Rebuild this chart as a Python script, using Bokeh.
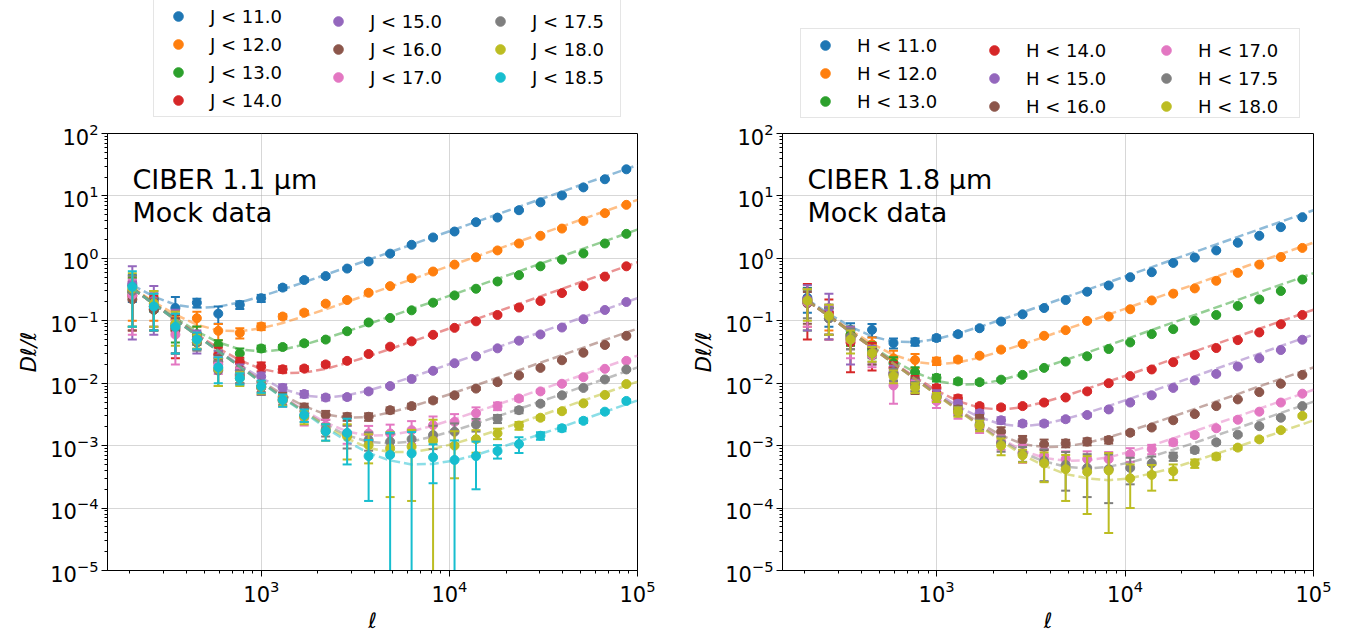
import numpy as np
from bokeh.plotting import figure
from bokeh.models import Legend, LegendItem, Label, Range1d, FixedTicker, ColumnDataSource
from bokeh.layouts import row, column
from bokeh.embed import file_html
from bokeh.resources import INLINE

# ---------------- data ----------------
ELL = [206, 268, 349, 454, 590, 768, 998, 1298, 1690, 2198, 2858, 3718, 4838, 6293,
       8185, 10646, 13848, 18014, 23432, 30480, 39648, 51573, 67086, 87264]
ELL_MODEL = ELL + [100000]

COLORS = ["#1f77b4", "#ff7f0e", "#2ca02c", "#d62728", "#9467bd",
          "#8c564b", "#e377c2", "#7f7f7f", "#bcbd22", "#17becf"]

J_LABELS = ["J < 11.0", "J < 12.0", "J < 13.0", "J < 14.0", "J < 15.0",
            "J < 16.0", "J < 17.0", "J < 17.5", "J < 18.0", "J < 18.5"]
H_LABELS = ["H < 11.0", "H < 12.0", "H < 13.0", "H < 14.0", "H < 15.0",
            "H < 16.0", "H < 17.0", "H < 17.5", "H < 18.0"]

# ---- CIBER 1.1 um (J) ----
j11_val = [0.37, 0.22, 0.16, 0.195, 0.13, 0.18, 0.23, 0.34, 0.45, 0.52, 0.686, 0.89, 1.19, 1.65, 2.16, 2.69, 3.8, 4.5, 5.9, 7.9, 10.2, 13.7, 18.5, 26.7]
j11_err = [0.17, 0.08, 0.08, 0.03, 0.04, 0.025, 0.03, 0.03, 0.03, 0.03, 0.03, 0.04, 0.05, 0.06, 0.08, 0.1, 0.12, 0.15, 0.2, 0.25, 0.3, 0.4, 0.5, 0.7]
j11_mod = [0.374, 0.244, 0.181, 0.160, 0.168, 0.197, 0.246, 0.317, 0.416, 0.547, 0.721, 0.951, 1.26, 1.66, 2.2, 2.9, 3.83, 5.08, 6.7, 8.86, 11.7, 15.5, 20.4, 27.0, 31.2]

j12_val = [0.30, 0.17, 0.105, 0.11, 0.069, 0.064, 0.081, 0.117, 0.135, 0.188, 0.215, 0.281, 0.359, 0.481, 0.615, 0.794, 1.04, 1.34, 1.73, 2.30, 3.0, 3.98, 5.3, 7.2]
j12_err = [0.2, 0.07, 0.04, 0.03, 0.02, 0.012, 0.01, 0.01, 0.01, 0.01, 0.01, 0.012, 0.014, 0.018, 0.02, 0.025, 0.03, 0.04, 0.05, 0.06, 0.08, 0.1, 0.13, 0.18]
j12_mod = [0.342, 0.201, 0.126, 0.0864, 0.0702, 0.068, 0.0758, 0.0923, 0.118, 0.153, 0.201, 0.265, 0.351, 0.461, 0.610, 0.806, 1.064, 1.41, 1.86, 2.46, 3.24, 4.30, 5.68, 7.5, 8.66]

j13_val = [0.28, 0.15, 0.085, 0.061, 0.041, 0.030, 0.036, 0.038, 0.0436, 0.050, 0.068, 0.094, 0.111, 0.147, 0.195, 0.255, 0.326, 0.426, 0.537, 0.746, 0.955, 1.2, 1.73, 2.47]
j13_err = [0.2, 0.08, 0.04, 0.02, 0.008, 0.006, 0.004, 0.003, 0.003, 0.003, 0.003, 0.004, 0.004, 0.005, 0.006, 0.007, 0.008, 0.01, 0.012, 0.015, 0.02, 0.025, 0.035, 0.05]
j13_mod = [0.334, 0.190, 0.111, 0.0675, 0.0451, 0.0349, 0.0321, 0.0346, 0.0415, 0.0524, 0.0678, 0.0886, 0.117, 0.154, 0.203, 0.269, 0.355, 0.470, 0.620, 0.820, 1.081, 1.433, 1.89, 2.5, 2.89]

j14_val = [0.25, 0.16, 0.075, 0.05, 0.029, 0.0216, 0.0185, 0.0167, 0.0172, 0.020, 0.0228, 0.0294, 0.0385, 0.0468, 0.0596, 0.077, 0.098, 0.124, 0.163, 0.207, 0.278, 0.359, 0.51, 0.746]
j14_err = [0.18, 0.09, 0.05, 0.015, 0.008, 0.004, 0.003, 0.002, 0.0015, 0.0015, 0.0015, 0.0015, 0.0018, 0.002, 0.002, 0.0025, 0.003, 0.004, 0.005, 0.006, 0.008, 0.01, 0.014, 0.02]
j14_mod = [0.331, 0.187, 0.106, 0.0608, 0.0364, 0.0233, 0.0169, 0.0145, 0.0148, 0.0170, 0.0211, 0.0270, 0.0354, 0.0463, 0.0611, 0.0806, 0.106, 0.141, 0.186, 0.246, 0.324, 0.430, 0.568, 0.75, 0.866]

j15_val = [0.40, 0.21, 0.09, 0.05, 0.025, 0.016, 0.0128, 0.0084, 0.0067, 0.0059, 0.0060, 0.0074, 0.0090, 0.0117, 0.0158, 0.0209, 0.027, 0.0362, 0.048, 0.0605, 0.078, 0.106, 0.149, 0.20]
j15_err = [0.35, 0.15, 0.06, 0.02, 0.008, 0.004, 0.002, 0.0012, 0.0008, 0.0006, 0.0005, 0.0005, 0.0005, 0.0006, 0.0006, 0.0007, 0.0008, 0.001, 0.0012, 0.0015, 0.002, 0.0025, 0.003, 0.004]
j15_mod = [0.330, 0.185, 0.1046, 0.0588, 0.0336, 0.0196, 0.0121, 0.0081, 0.00636, 0.00589, 0.00639, 0.00764, 0.0097, 0.0125, 0.0164, 0.0216, 0.0284, 0.0376, 0.0496, 0.0656, 0.0865, 0.1146, 0.151, 0.20, 0.231]

j16_val = [0.22, 0.15, 0.07, 0.045, 0.022, 0.014, 0.0087, 0.006, 0.0041, 0.0031, 0.0029, 0.0029, 0.0037, 0.0043, 0.0053, 0.0064, 0.0082, 0.0104, 0.0133, 0.0176, 0.0233, 0.0308, 0.041, 0.0575]
j16_err = [0.15, 0.07, 0.04, 0.01, 0.006, 0.004, 0.0015, 0.001, 0.0006, 0.0005, 0.0004, 0.0004, 0.0004, 0.0004, 0.0004, 0.0004, 0.0004, 0.0004, 0.0005, 0.0005, 0.0006, 0.0008, 0.001, 0.0014]
j16_mod = [0.330, 0.1851, 0.1042, 0.0582, 0.0329, 0.0187, 0.0109, 0.00655, 0.00429, 0.00316, 0.00279, 0.00289, 0.0034, 0.00422, 0.00542, 0.00707, 0.00928, 0.01226, 0.01615, 0.02134, 0.0281, 0.0372, 0.0492, 0.065, 0.075]

j17_val = [0.26, 0.18, 0.06, 0.05, 0.02, 0.0135, 0.0085, 0.0052, 0.0028, 0.0021, 0.00157, 0.00157, 0.00157, 0.00177, 0.00213, 0.0024, 0.0033, 0.0043, 0.0057, 0.0074, 0.0098, 0.0125, 0.017, 0.0228]
j17_err = [0.2, 0.1, 0.04, 0.015, 0.006, 0.004, 0.002, 0.001, 0.0007, 0.0005, 0.0005, 0.0005, 0.0006, 0.0007, 0.0008, 0.0008, 0.0008, 0.0006, 0.0005, 0.0004, 0.0004, 0.0004, 0.0005, 0.0006]
j17_mod = [0.330, 0.185, 0.104, 0.0581, 0.0327, 0.0185, 0.0105, 0.00608, 0.00367, 0.00233, 0.00169, 0.00144, 0.00148, 0.0017, 0.00209, 0.00267, 0.00347, 0.00455, 0.00598, 0.00789, 0.0104, 0.01376, 0.01817, 0.024, 0.0277]

j175_val = [0.30, 0.17, 0.08, 0.045, 0.016, 0.013, 0.0085, 0.0055, 0.0030, 0.0018, 0.0015, 0.00123, 0.00116, 0.00127, 0.00148, 0.00167, 0.00218, 0.0027, 0.0037, 0.0047, 0.0064, 0.0084, 0.0115, 0.0166]
j175_err = [0.22, 0.1, 0.05, 0.012, 0.007, 0.003, 0.002, 0.001, 0.0006, 0.0004, 0.0006, 0.0004, 0.0004, 0.0005, 0.0006, 0.0006, 0.0005, 0.0004, 0.0004, 0.0003, 0.0003, 0.0003, 0.0003, 0.0004]
j175_mod = [0.330, 0.185, 0.104, 0.0581, 0.0327, 0.0184, 0.01044, 0.00598, 0.00354, 0.00216, 0.00146, 0.00115, 0.00108, 0.00117, 0.0014, 0.00175, 0.00226, 0.00295, 0.00387, 0.0051, 0.0067, 0.00889, 0.01174, 0.0155, 0.0179]

j18_val = [0.33, 0.19, 0.09, 0.048, 0.017, 0.012, 0.0088, 0.0053, 0.0029, 0.0017, 0.0014, 0.00102, 0.0009, 0.00096, 0.0012, 0.0010, 0.00127, 0.00157, 0.0021, 0.0028, 0.00356, 0.00476, 0.0065, 0.0097]
j18_err = [0.25, 0.11, 0.05, 0.012, 0.008, 0.003, 0.002, 0.001, 0.0007, 0.0005, 0.0008, 0.0005, 0.00075, 0.00083, 0.0014, 0.0007, 0.0005, 0.0003, 0.0003, 0.0002, 0.0002, 0.0002, 0.0002, 0.0003]
j18_mod = [0.330, 0.185, 0.104, 0.0581, 0.0327, 0.0184, 0.01038, 0.0059, 0.00344, 0.00204, 0.0013, 0.00092, 0.00079, 0.00079, 0.00089, 0.00108, 0.00137, 0.00177, 0.00231, 0.00304, 0.00399, 0.00528, 0.00697, 0.0092, 0.0106]

j185_val = [0.35, 0.17, 0.08, 0.05, 0.018, 0.012, 0.009, 0.0054, 0.0031, 0.0017, 0.0016, 0.00068, 0.00071, 0.00075, 0.00065, 0.00059, 0.00068, 0.00082, 0.00106, 0.00144, 0.0019, 0.0025, 0.0035, 0.0052]
j185_err = [0.27, 0.1, 0.05, 0.015, 0.008, 0.0025, 0.002, 0.0012, 0.0007, 0.0005, 0.0011, 0.00055, 0.0009, 0.0009, 0.0004, 0.00062, 0.00048, 0.0002, 0.0003, 0.0002, 0.0002, 0.0002, 0.0002, 0.0003]
j185_mod = [0.330, 0.185, 0.104, 0.0581, 0.0327, 0.0184, 0.01034, 0.00585, 0.00337, 0.00194, 0.00117, 0.00076, 0.00058, 0.0005, 0.00051, 0.00058, 0.00071, 0.00091, 0.00117, 0.00153, 0.00199, 0.00264, 0.00348, 0.0046, 0.0053]

# ---- CIBER 1.8 um (H) ----
h11_val = [0.234, 0.11, 0.0716, 0.0716, 0.044, 0.046, 0.053, 0.061, 0.076, 0.0973, 0.127, 0.160, 0.215, 0.292, 0.368, 0.499, 0.60, 0.845, 1.03, 1.34, 1.78, 2.3, 3.16, 4.56]
h11_err = [0.1, 0.03, 0.02, 0.017, 0.008, 0.006, 0.005, 0.005, 0.005, 0.005, 0.005, 0.006, 0.007, 0.008, 0.01, 0.012, 0.015, 0.02, 0.025, 0.03, 0.04, 0.05, 0.06, 0.08]
h11_mod = [0.218, 0.129, 0.0806, 0.0562, 0.0463, 0.0454, 0.0511, 0.0625, 0.080, 0.104, 0.137, 0.180, 0.238, 0.314, 0.415, 0.548, 0.724, 0.959, 1.265, 1.673, 2.206, 2.92, 3.86, 5.1, 5.89]

h12_val = [0.2, 0.12, 0.06, 0.042, 0.025, 0.0235, 0.0225, 0.0239, 0.0276, 0.0345, 0.0424, 0.0575, 0.0708, 0.0995, 0.117, 0.153, 0.212, 0.272, 0.33, 0.437, 0.586, 0.794, 1.05, 1.47]
h12_err = [0.12, 0.05, 0.02, 0.012, 0.008, 0.006, 0.003, 0.002, 0.0015, 0.0015, 0.0015, 0.002, 0.002, 0.003, 0.003, 0.004, 0.005, 0.006, 0.007, 0.008, 0.01, 0.012, 0.015, 0.02]
h12_mod = [0.2125, 0.1214, 0.0704, 0.0428, 0.0285, 0.0219, 0.0201, 0.0215, 0.0257, 0.0325, 0.0421, 0.055, 0.0727, 0.0955, 0.126, 0.1666, 0.22, 0.291, 0.384, 0.508, 0.670, 0.888, 1.173, 1.55, 1.79]

h13_val = [0.2, 0.12, 0.06, 0.035, 0.021, 0.015, 0.0122, 0.0107, 0.0104, 0.0114, 0.0136, 0.0176, 0.0222, 0.027, 0.0353, 0.045, 0.0612, 0.0735, 0.10, 0.124, 0.173, 0.22, 0.30, 0.458]
h13_err = [0.13, 0.06, 0.02, 0.01, 0.005, 0.003, 0.0015, 0.001, 0.0008, 0.0006, 0.0006, 0.0006, 0.0007, 0.0008, 0.001, 0.0012, 0.0015, 0.002, 0.0025, 0.003, 0.004, 0.005, 0.006, 0.008]
h13_mod = [0.211, 0.119, 0.0674, 0.0388, 0.0232, 0.01495, 0.0109, 0.00943, 0.00969, 0.01125, 0.014, 0.018, 0.0236, 0.0309, 0.0408, 0.0538, 0.071, 0.094, 0.124, 0.164, 0.216, 0.2865, 0.3785, 0.5, 0.578]

h14_val = [0.22, 0.135, 0.045, 0.03, 0.0177, 0.011, 0.0084, 0.0057, 0.0043, 0.0041, 0.0043, 0.0049, 0.0059, 0.0074, 0.010, 0.013, 0.0166, 0.0217, 0.0283, 0.0366, 0.049, 0.065, 0.088, 0.124]
h14_err = [0.17, 0.085, 0.03, 0.014, 0.004, 0.002, 0.001, 0.0007, 0.0004, 0.0003, 0.0003, 0.0003, 0.0003, 0.0003, 0.0004, 0.0004, 0.0005, 0.0006, 0.0008, 0.001, 0.0012, 0.0015, 0.002, 0.003]
h14_mod = [0.2102, 0.1183, 0.0664, 0.0374, 0.0214, 0.0125, 0.00767, 0.00516, 0.00404, 0.00378, 0.00412, 0.00498, 0.00632, 0.00816, 0.01067, 0.0140, 0.0185, 0.0245, 0.0323, 0.0427, 0.0562, 0.0745, 0.0984, 0.13, 0.150]

h15_val = [0.22, 0.16, 0.05, 0.03, 0.015, 0.0095, 0.0065, 0.0047, 0.0033, 0.00255, 0.00226, 0.00226, 0.00265, 0.0031, 0.0038, 0.0049, 0.0064, 0.0084, 0.0111, 0.0141, 0.0185, 0.0251, 0.034, 0.0497]
h15_err = [0.15, 0.11, 0.03, 0.01, 0.004, 0.002, 0.0012, 0.0006, 0.0004, 0.0003, 0.0002, 0.0002, 0.0002, 0.0002, 0.0002, 0.0002, 0.0002, 0.0003, 0.0003, 0.0004, 0.0005, 0.0006, 0.0008, 0.001]
h15_mod = [0.2101, 0.1181, 0.0661, 0.0371, 0.021, 0.012, 0.00698, 0.00426, 0.00285, 0.0022, 0.00204, 0.00223, 0.00268, 0.00336, 0.00433, 0.00565, 0.00743, 0.00981, 0.0129, 0.0171, 0.0225, 0.0298, 0.0394, 0.052, 0.060]

h16_val = [0.19, 0.11, 0.055, 0.028, 0.014, 0.0095, 0.0059, 0.0038, 0.0027, 0.00167, 0.00123, 0.00105, 0.00109, 0.00116, 0.00123, 0.00161, 0.00195, 0.00255, 0.0032, 0.0043, 0.0055, 0.0072, 0.0098, 0.0136]
h16_err = [0.1, 0.05, 0.02, 0.008, 0.003, 0.0028, 0.001, 0.0005, 0.0004, 0.0003, 0.0002, 0.0002, 0.00015, 0.00015, 0.00015, 0.00012, 0.0001, 0.0001, 0.0001, 0.0001, 0.0001, 0.0001, 0.00015, 0.0002]
h16_mod = [0.21, 0.118, 0.066, 0.037, 0.0208, 0.01174, 0.00667, 0.00384, 0.00229, 0.00146, 0.00106, 0.00095, 0.00097, 0.00111, 0.00136, 0.00173, 0.00225, 0.00294, 0.00386, 0.0051, 0.0067, 0.00889, 0.01174, 0.0155, 0.0179]

h17_val = [0.2, 0.12, 0.05, 0.028, 0.0092, 0.009, 0.0052, 0.0033, 0.002, 0.00116, 0.00078, 0.00069, 0.00061, 0.00061, 0.00061, 0.00073, 0.00088, 0.00113, 0.00148, 0.0019, 0.0026, 0.0035, 0.0049, 0.0068]
h17_err = [0.12, 0.06, 0.025, 0.01, 0.0045, 0.002, 0.0012, 0.0006, 0.0004, 0.0003, 0.00025, 0.0002, 0.0002, 0.0002, 0.00018, 0.00018, 0.00015, 0.00012, 0.0001, 0.0001, 0.0001, 0.0001, 0.00012, 0.00015]
h17_mod = [0.21, 0.118, 0.066, 0.0369, 0.0207, 0.01169, 0.00659, 0.00374, 0.00215, 0.00129, 0.00083, 0.00064, 0.00057, 0.00058, 0.00065, 0.0008, 0.00101, 0.00131, 0.00171, 0.00225, 0.00295, 0.0039, 0.00516, 0.0068, 0.00785]

h175_val = [0.21, 0.11, 0.055, 0.03, 0.014, 0.009, 0.006, 0.0036, 0.0022, 0.0011, 0.00075, 0.00057, 0.00049, 0.00044, 0.00042, 0.00044, 0.00052, 0.00067, 0.00085, 0.00113, 0.0015, 0.00205, 0.0028, 0.0043]
h175_err = [0.1, 0.05, 0.02, 0.008, 0.003, 0.0015, 0.001, 0.0006, 0.0004, 0.0003, 0.0002, 0.0003, 0.0003, 0.00029, 0.0003, 0.0002, 0.00015, 0.0001, 0.00008, 0.00007, 0.00007, 0.00008, 0.0001, 0.00015]
h175_mod = [0.21, 0.118, 0.066, 0.0369, 0.0207, 0.01167, 0.00657, 0.00371, 0.00212, 0.00124, 0.00077, 0.00056, 0.00046, 0.00043, 0.00046, 0.00054, 0.00067, 0.00086, 0.00111, 0.00146, 0.00191, 0.00253, 0.00334, 0.0044, 0.00508]

h18_val = [0.21, 0.12, 0.05, 0.03, 0.013, 0.0085, 0.006, 0.0035, 0.0021, 0.001, 0.0007, 0.00052, 0.00042, 0.00038, 0.0004, 0.0003, 0.00034, 0.00039, 0.00052, 0.00067, 0.00093, 0.00126, 0.00177, 0.003]
h18_err = [0.11, 0.06, 0.02, 0.008, 0.003, 0.0015, 0.001, 0.0006, 0.0004, 0.0003, 0.00016, 0.00026, 0.00029, 0.0003, 0.00036, 0.0002, 0.00015, 0.00011, 0.00008, 0.00007, 0.00007, 0.00008, 0.0001, 0.00015]
h18_mod = [0.21, 0.118, 0.066, 0.0369, 0.0207, 0.01165, 0.00655, 0.00369, 0.00208, 0.00119, 0.00071, 0.00048, 0.00035, 0.0003, 0.00028, 0.0003, 0.00036, 0.00044, 0.00057, 0.00074, 0.00096, 0.00127, 0.00168, 0.0022, 0.00254]

J_SERIES = [(j11_val, j11_err, j11_mod), (j12_val, j12_err, j12_mod), (j13_val, j13_err, j13_mod),
            (j14_val, j14_err, j14_mod), (j15_val, j15_err, j15_mod), (j16_val, j16_err, j16_mod),
            (j17_val, j17_err, j17_mod), (j175_val, j175_err, j175_mod), (j18_val, j18_err, j18_mod),
            (j185_val, j185_err, j185_mod)]
H_SERIES = [(h11_val, h11_err, h11_mod), (h12_val, h12_err, h12_mod), (h13_val, h13_err, h13_mod),
            (h14_val, h14_err, h14_mod), (h15_val, h15_err, h15_mod), (h16_val, h16_err, h16_mod),
            (h17_val, h17_err, h17_mod), (h175_val, h175_err, h175_mod), (h18_val, h18_err, h18_mod)]

FONT = "DejaVu Sans"

X_MAJOR = [1e3, 1e4, 1e5]
X_MINOR = [m * 10.0 ** k for k in (2, 3, 4) for m in range(2, 10) if m * 10.0 ** k >= 152]
Y_MAJOR = [10.0 ** k for k in range(-5, 3)]
Y_MINOR = [m * 10.0 ** k for k in range(-5, 2) for m in range(2, 10)]

LEG_H = 118      # height of the legend strip above each panel
PLOT_H = 635 - LEG_H


def make_panel(series, title1, width, bl, br):
    p = figure(width=width, height=PLOT_H, x_axis_type="log", y_axis_type="log",
               x_range=Range1d(152, 1e5), y_range=Range1d(1e-5, 1e2),
               output_backend="svg", toolbar_location=None,
               min_border_left=bl, min_border_right=br, min_border_top=133 - LEG_H,
               min_border_bottom=62)
    p.outline_line_color = "black"
    p.outline_line_alpha = 1
    p.outline_line_width = 1
    p.background_fill_color = "white"
    p.border_fill_color = "white"

    xt = FixedTicker(ticks=X_MAJOR, minor_ticks=X_MINOR)
    yt = FixedTicker(ticks=Y_MAJOR, minor_ticks=Y_MINOR)
    p.xaxis.ticker = xt
    p.xgrid.ticker = xt
    p.yaxis.ticker = yt
    p.ygrid.ticker = yt
    for ax in (p.xaxis, p.yaxis):
        ax.axis_line_color = "black"
        ax.major_tick_line_color = "black"
        ax.minor_tick_line_color = "black"
        ax.major_tick_out = 6
        ax.major_tick_in = 0
        ax.minor_tick_out = 3
        ax.minor_tick_in = 0
        ax.major_label_text_font = FONT
        ax.major_label_text_font_size = "21px"
        ax.major_label_text_color = "black"
        ax.axis_label_text_font = FONT
        ax.axis_label_text_font_size = "21px"
        ax.axis_label_text_font_style = "italic"
        ax.axis_label_text_color = "black"
    p.xaxis.major_label_standoff = 3
    p.yaxis.major_label_standoff = 3
    p.xaxis.axis_label = "ℓ"
    p.yaxis.axis_label = "Dℓ/ℓ"
    p.xaxis.axis_label_standoff = 4
    p.yaxis.axis_label_standoff = 6
    for g in (p.xgrid, p.ygrid):
        g.grid_line_color = "#b0b0b0"
        g.grid_line_alpha = 0.5
        g.grid_line_width = 1

    ell = np.array(ELL, dtype=float)
    for color, (vals, errs, mod) in zip(COLORS, series):
        v = np.array(vals, dtype=float)
        e = np.array(errs, dtype=float)
        lo = v - e
        lo_bar = np.where(lo > 0, lo, 1e-30)
        lo_cap = np.where(lo > 0, lo, np.nan)
        src = ColumnDataSource(dict(x=ell, y=v, lo=lo_bar, hi=v + e, locap=lo_cap))
        p.segment(x0="x", y0="lo", x1="x", y1="hi", source=src, line_color=color, line_width=2)
        p.scatter(x="x", y="locap", marker="dash", size=9, line_color=color, line_width=2, source=src)
        p.scatter(x="x", y="hi", marker="dash", size=9, line_color=color, line_width=2, source=src)
        p.scatter(x="x", y="y", marker="circle", size=9, fill_color=color, line_color=color, source=src)
        p.line(x=ELL_MODEL, y=mod, line_color=color, line_width=2.5, line_alpha=0.5, line_dash="9 4")

    p.add_layout(Label(x=25, y=391, x_units="screen", y_units="screen", text=title1,
                       text_font=FONT, text_font_size="27px", text_color="black",
                       text_align="left", text_baseline="alphabetic"))
    p.add_layout(Label(x=25, y=358, x_units="screen", y_units="screen", text="Mock data",
                       text_font=FONT, text_font_size="27px", text_color="black",
                       text_align="left", text_baseline="alphabetic"))
    return p


def make_legend_strip(labels, width, columns, col_x, col_y, first_lw):
    lf = figure(width=width, height=LEG_H, x_range=Range1d(0, 1), y_range=Range1d(0, 1),
                x_axis_location=None, y_axis_location=None, toolbar_location=None,
                output_backend="svg", min_border=0)
    lf.outline_line_color = None
    lf.grid.visible = False
    lf.background_fill_color = "white"
    lf.border_fill_color = "white"
    icons = []
    for i in range(len(labels)):
        icons.append(lf.scatter(x=[np.nan], y=[np.nan], marker="circle", size=9,
                                fill_color=COLORS[i], line_color=COLORS[i]))
    for ci, idxs in enumerate(columns):
        items = [LegendItem(label=labels[i], renderers=[icons[i]]) for i in idxs]
        leg = Legend(items=items, location=(col_x[ci], col_y[ci]), orientation="vertical",
                     glyph_width=40, glyph_height=24, label_height=24,
                     label_width=first_lw if ci == 0 else 20, label_standoff=12,
                     padding=4, spacing=4, margin=0,
                     label_text_font=FONT, label_text_font_size="18px", label_text_color="black",
                     border_line_color="#cccccc" if ci == 0 else None, border_line_width=1,
                     background_fill_color="white",
                     background_fill_alpha=0.8 if ci == 0 else 0.0)
        lf.add_layout(leg)
    return lf


p1 = make_panel(J_SERIES, "CIBER 1.1 μm", 672, 107, 35)
p2 = make_panel(H_SERIES, "CIBER 1.8 μm", 673, 110, 32)
l1 = make_legend_strip(J_LABELS, 672, [[0, 1, 2, 3], [4, 5, 6], [7, 8, 9]],
                       [153, 318, 480], [1, 29, 29], 406)
l2 = make_legend_strip(H_LABELS, 673, [[0, 1, 2], [3, 4, 5], [6, 7, 8]],
                       [128, 302, 474], [0, 0, 0], 438)

layout = column(row(l1, l2), row(p1, p2))
open("out.html", "w").write(file_html(layout, INLINE))
